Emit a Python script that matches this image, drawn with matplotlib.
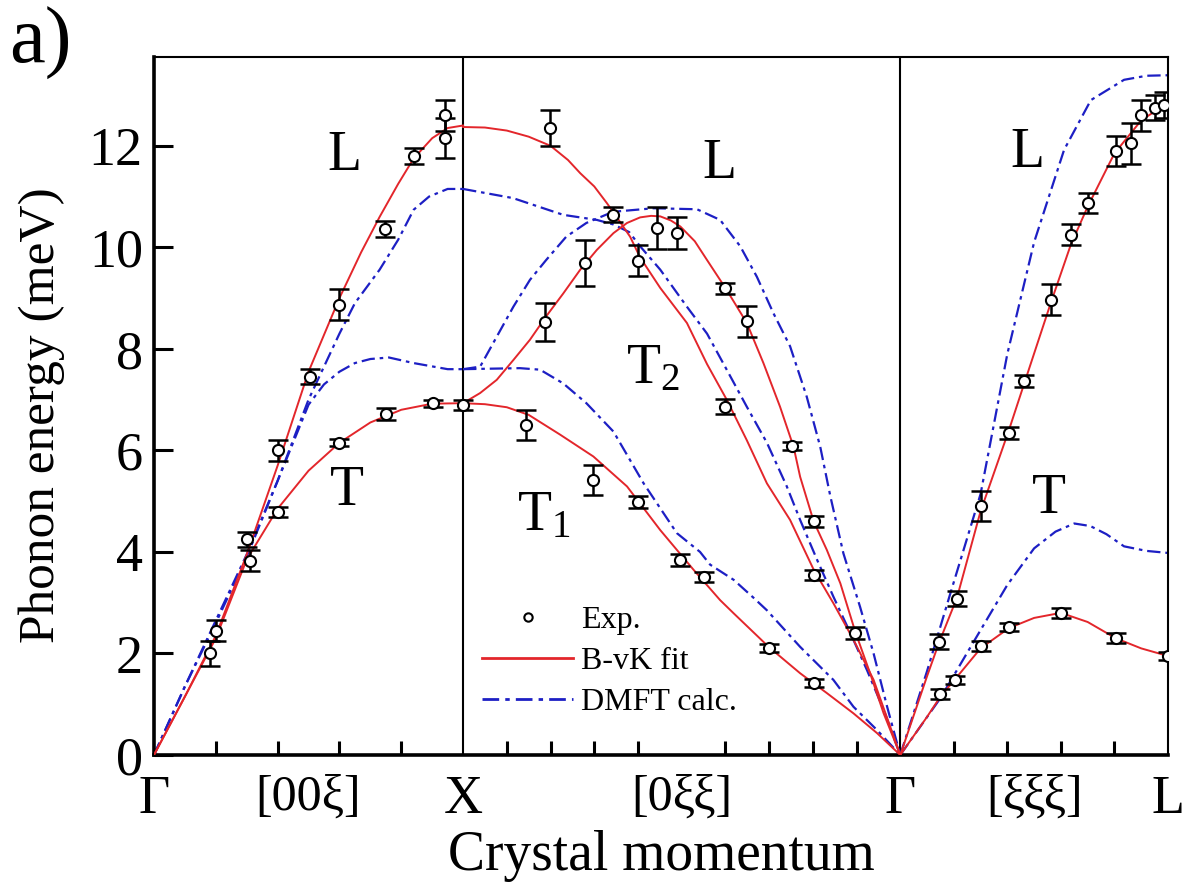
import numpy as np
import matplotlib
matplotlib.use('Agg')
import matplotlib.pyplot as plt

plt.rcParams['font.family'] = ['Liberation Serif', 'DejaVu Serif']
plt.rcParams['mathtext.fontset'] = 'custom'
plt.rcParams['mathtext.rm'] = 'Liberation Serif'
plt.rcParams['mathtext.it'] = 'Liberation Serif'

# path segments: G-X [00x], X-G [0xx], G-L [xxx]  (lengths in 2pi/a)
seg_len = [1.0, np.sqrt(2), np.sqrt(3) / 2]
seg_start = [0.0, 1.0, 1.0 + np.sqrt(2)]

RED = '#e3262b'
BLUE = '#1d1fc4'

# ---- B-vK fit (red), q = fraction along each segment ----
fit_gx_L_q = [0, 0.1, 0.2, 0.3, 0.4, 0.5, 0.6, 0.67, 0.73, 0.79, 0.84, 0.9, 0.95, 1.0]
fit_gx_L_e = [0, 1.15, 2.35, 3.95, 5.7, 7.55, 9.0, 9.9, 10.6, 11.25, 11.75, 12.15, 12.35, 12.4]
fit_gx_T_q = [0, 0.1, 0.2, 0.3, 0.4, 0.5, 0.6, 0.7, 0.8, 0.9, 1.0]
fit_gx_T_e = [0, 1.15, 2.3, 3.85, 4.85, 5.6, 6.15, 6.55, 6.8, 6.92, 6.93]

fit_xg_L_q = [0, 0.05, 0.1, 0.15, 0.2, 0.24, 0.268, 0.3, 0.329, 0.355, 0.382, 0.405, 0.451,
              0.512, 0.558, 0.603, 0.649, 0.695, 0.748, 0.802, 0.847, 0.893, 0.939, 1.0]
fit_xg_L_e = [12.37, 12.36, 12.3, 12.18, 12.0, 11.72, 11.46, 11.2, 10.87, 10.55, 10.21, 9.8, 9.2,
              8.51, 7.7, 7.0, 6.2, 5.35, 4.63, 3.65, 2.99, 2.27, 1.48, 0]
fit_xg_T2_q = [0, 0.039, 0.077, 0.115, 0.153, 0.19, 0.229, 0.268, 0.306, 0.344, 0.375, 0.405,
               0.43, 0.451, 0.475, 0.497, 0.53, 0.558, 0.603, 0.649, 0.687, 0.725, 0.756, 0.771,
               0.802, 0.832, 0.863, 0.897, 0.931, 0.962, 1.0]
fit_xg_T2_e = [6.93, 7.13, 7.39, 7.78, 8.18, 8.64, 9.09, 9.56, 9.95, 10.28, 10.48, 10.59,
               10.62, 10.61, 10.53, 10.41, 10.12, 9.75, 9.16, 8.51, 7.72, 6.86, 6.07, 5.48,
               4.6, 4.04, 3.38, 2.43, 1.61, 0.82, 0]
fit_xg_T1_q = [0, 0.05, 0.1, 0.15, 0.222, 0.298, 0.375, 0.451, 0.527, 0.588, 0.619, 0.699, 0.771,
               0.832, 0.893, 0.947, 1.0]
fit_xg_T1_e = [6.93, 6.91, 6.85, 6.7, 6.31, 5.88, 5.29, 4.43, 3.65, 3.05, 2.79, 2.13, 1.61,
               1.22, 0.82, 0.43, 0]

fit_gl_L_q = [0, 0.1, 0.144, 0.212, 0.3, 0.406, 0.462, 0.562, 0.637, 0.7, 0.8, 0.9, 1.0]
fit_gl_L_e = [0, 1.55, 2.2, 3.1, 4.8, 6.4, 7.3, 8.9, 10.05, 10.8, 11.85, 12.5, 12.85]
fit_gl_T_q = [0, 0.1, 0.15, 0.206, 0.3, 0.406, 0.5, 0.6, 0.7, 0.805, 0.9, 1.0]
fit_gl_T_e = [0, 0.75, 1.15, 1.5, 2.1, 2.5, 2.7, 2.8, 2.62, 2.3, 2.1, 1.95]

# ---- DMFT calc. (blue) ----
dmft_gx_L_q = [0, 0.1, 0.2, 0.3, 0.4, 0.5, 0.6, 0.65, 0.73, 0.79, 0.84, 0.89, 0.95, 1.0]
dmft_gx_L_e = [0, 1.35, 2.65, 3.95, 5.4, 7.0, 8.3, 8.9, 9.56, 10.15, 10.74, 11.0, 11.15, 11.15]
dmft_gx_T_q = [0, 0.1, 0.2, 0.3, 0.4, 0.5, 0.55, 0.6, 0.65, 0.7, 0.76, 0.84, 0.95, 1.0]
dmft_gx_T_e = [0, 1.35, 2.6, 3.9, 5.4, 6.9, 7.3, 7.55, 7.72, 7.8, 7.83, 7.72, 7.6, 7.6]

dmft_xg_L_q = [0, 0.114, 0.229, 0.306, 0.344, 0.38, 0.405, 0.451, 0.512, 0.558, 0.603, 0.649,
               0.695, 0.74, 0.771, 0.81, 0.847, 0.886, 0.924, 0.962, 1.0]
dmft_xg_L_e = [11.15, 10.97, 10.64, 10.54, 10.45, 10.3, 10.02, 9.56, 8.83, 8.3, 7.59, 6.86,
               6.15, 5.3, 4.63, 3.84, 3.12, 2.4, 1.67, 0.89, 0]
dmft_xg_T2_q = [0, 0.039, 0.077, 0.115, 0.153, 0.19, 0.236, 0.282, 0.343, 0.436, 0.535, 0.588,
                0.634, 0.672, 0.71, 0.748, 0.786, 0.817, 0.84, 0.87, 0.908, 0.939, 0.97, 1.0]
dmft_xg_T2_e = [7.6, 7.65, 8.24, 8.83, 9.36, 9.75, 10.21, 10.48, 10.7, 10.77, 10.75, 10.54,
                10.02, 9.42, 8.7, 8.05, 7.06, 6.07, 5.1, 3.97, 2.92, 2.0, 0.95, 0]
dmft_xg_T1_q = [0, 0.13, 0.176, 0.229, 0.282, 0.344, 0.413, 0.489, 0.542, 0.565, 0.619, 0.664,
                0.695, 0.771, 0.847, 0.893, 0.947, 1.0]
dmft_xg_T1_e = [7.6, 7.62, 7.59, 7.32, 6.93, 6.37, 5.35, 4.37, 4.0, 3.75, 3.45, 3.1,
                2.85, 2.13, 1.48, 0.95, 0.49, 0]

dmft_gl_L_q = [0, 0.1, 0.187, 0.3, 0.4, 0.5, 0.612, 0.712, 0.836, 0.92, 1.0]
dmft_gl_L_e = [0, 1.65, 3.18, 5.14, 7.9, 10.1, 11.92, 12.9, 13.3, 13.38, 13.39]
dmft_gl_T_q = [0, 0.15, 0.3, 0.4, 0.5, 0.58, 0.65, 0.71, 0.77, 0.836, 0.92, 1.0]
dmft_gl_T_e = [0, 1.12, 2.46, 3.35, 4.07, 4.4, 4.56, 4.51, 4.35, 4.11, 4.02, 3.98]

# ---- experiment: (q, energy, error) per segment ----
exp_gx_q = [0.18, 0.20, 0.30, 0.31, 0.40, 0.40, 0.505, 0.60, 0.60, 0.748, 0.75, 0.84, 0.904, 0.94, 0.94, 1.0]
exp_gx_e = [2.0, 2.45, 4.25, 3.83, 6.0, 4.78, 7.45, 8.87, 6.15, 10.36, 6.72, 11.8, 6.93, 12.6, 12.15, 6.9]
exp_gx_err = [0.25, 0.2, 0.15, 0.2, 0.2, 0.1, 0.15, 0.3, 0.07, 0.15, 0.12, 0.15, 0.07, 0.3, 0.4, 0.1]

exp_xg_q = [0.145, 0.188, 0.199, 0.279, 0.298, 0.344, 0.401, 0.401, 0.443, 0.489, 0.497, 0.55,
            0.6, 0.6, 0.649, 0.699, 0.752, 0.802, 0.802, 0.802, 0.897]
exp_xg_e = [6.5, 8.53, 12.35, 9.69, 5.42, 10.64, 9.74, 4.99, 10.38, 10.28, 3.84, 3.51,
            9.19, 6.86, 8.54, 2.1, 6.08, 4.6, 3.55, 1.41, 2.4]
exp_xg_err = [0.3, 0.38, 0.35, 0.45, 0.3, 0.15, 0.3, 0.12, 0.41, 0.31, 0.12, 0.1,
              0.1, 0.15, 0.3, 0.08, 0.08, 0.1, 0.1, 0.08, 0.12]

exp_gl_q = [0.15, 0.206, 0.30, 0.406, 0.6, 0.805, 1.0,
            0.144, 0.212, 0.30, 0.406, 0.462, 0.562, 0.637, 0.70, 0.805, 0.861, 0.9, 0.95, 0.985]
exp_gl_e = [1.2, 1.47, 2.14, 2.52, 2.8, 2.3, 1.95,
            2.23, 3.08, 4.9, 6.34, 7.37, 8.97, 10.25, 10.88, 11.9, 12.05, 12.6, 12.75, 12.8]
exp_gl_err = [0.1, 0.08, 0.1, 0.08, 0.1, 0.1, 0.08,
              0.15, 0.15, 0.3, 0.12, 0.12, 0.3, 0.2, 0.2, 0.3, 0.4, 0.3, 0.25, 0.25]

point_labels = ['Γ', '[00ξ]', 'X', '[0ξξ]', 'Γ', '[ξξξ]', 'L']


def to_path(seg, q):
    return seg_start[seg] + np.asarray(q) * seg_len[seg]


fig = plt.figure(figsize=(11.89, 8.9), dpi=100)
ax = fig.add_axes([0.1295, 0.1517, 0.8528, 0.7843])

dash = (0, (6, 2.2, 1.6, 2.2))
fits = [(0, fit_gx_L_q, fit_gx_L_e), (0, fit_gx_T_q, fit_gx_T_e),
        (1, fit_xg_L_q, fit_xg_L_e), (1, fit_xg_T2_q, fit_xg_T2_e), (1, fit_xg_T1_q, fit_xg_T1_e),
        (2, fit_gl_L_q, fit_gl_L_e), (2, fit_gl_T_q, fit_gl_T_e)]
calcs = [(0, dmft_gx_L_q, dmft_gx_L_e), (0, dmft_gx_T_q, dmft_gx_T_e),
         (1, dmft_xg_L_q, dmft_xg_L_e), (1, dmft_xg_T2_q, dmft_xg_T2_e), (1, dmft_xg_T1_q, dmft_xg_T1_e),
         (2, dmft_gl_L_q, dmft_gl_L_e), (2, dmft_gl_T_q, dmft_gl_T_e)]

for seg, q, e in calcs:
    ax.plot(to_path(seg, q), e, color=BLUE, lw=1.6, ls=dash, zorder=2)
for seg, q, e in fits:
    ax.plot(to_path(seg, q), e, color=RED, lw=1.4, zorder=3)

for seg, q, e, err in [(0, exp_gx_q, exp_gx_e, exp_gx_err),
                       (1, exp_xg_q, exp_xg_e, exp_xg_err),
                       (2, exp_gl_q, exp_gl_e, exp_gl_err)]:
    x = to_path(seg, q)
    ax.errorbar(x, e, yerr=err, fmt='none', ecolor='black', elinewidth=1.8,
                capsize=7, capthick=1.8, zorder=4)
    ax.plot(x, e, 'o', ms=8, mfc='white', mec='black', mew=1.5, zorder=5)

# legend proxies
ax.plot([], [], 'o', ms=6, mfc='white', mec='black', mew=1.5, label='Exp.')
ax.plot([], [], color=RED, lw=2.0, label='B-vK fit')
ax.plot([], [], color=BLUE, lw=2.0, ls=dash, label='DMFT calc.')
handles, labels = ax.get_legend_handles_labels()
ax.legend(handles[-3:], labels[-3:], loc='upper left', bbox_to_anchor=(0.3235, 0.214),
          frameon=False, fontsize=23, handlelength=2.85, handletextpad=0.25,
          labelspacing=0.36, borderpad=0, borderaxespad=0)

# symmetry point separators
for xv in [seg_start[1], seg_start[2]]:
    ax.axvline(xv, color='black', lw=1.5, zorder=1)

x_end = seg_start[2] + seg_len[2]
ax.set_xlim(0, x_end)
ax.set_ylim(0, 13.75)

ax.set_yticks([0, 2, 4, 6, 8, 10, 12])
ax.tick_params(axis='y', direction='in', length=14, width=2.2, labelsize=39, pad=8, right=False)

label_x = [0, 0.5, 1.0, seg_start[1] + seg_len[1] / 2, seg_start[2],
           seg_start[2] + seg_len[2] / 2, x_end]
ax.set_xticks(label_x)
ax.set_xticklabels(point_labels)
for t, lab in zip(ax.get_xticklabels(), point_labels):
    t.set_fontsize(36 if lab.startswith('[') else 39)
ax.tick_params(axis='x', which='major', length=0, pad=14)
minor = np.concatenate([np.linspace(0, 1, 6),
                        np.linspace(seg_start[1], seg_start[2], 11),
                        np.linspace(seg_start[2], x_end, 6)])
ax.set_xticks(minor, minor=True)
ax.tick_params(axis='x', which='minor', direction='in', length=10, width=2.2, top=False)

for side in ['left', 'bottom']:
    ax.spines[side].set_linewidth(2.6)
for side in ['top', 'right']:
    ax.spines[side].set_linewidth(1.5)

ax.set_xlabel('Crystal momentum', fontsize=40)
ax.xaxis.set_label_coords(0.5, -0.108)
ax.set_ylabel('Phonon energy (meV)', fontsize=37)
ax.yaxis.set_label_coords(-0.088, 0.487)

# branch labels
ax.text(0.615, 11.8, 'L', fontsize=40, ha='center', va='center')
ax.text(0.625, 5.2, 'T', fontsize=40, ha='center', va='center')
ax.text(1.83, 11.65, 'L', fontsize=40, ha='center', va='center')
ax.text(1.615, 7.6, r'T$_2$', fontsize=40, ha='center', va='center')
ax.text(1.26, 4.7, r'T$_1$', fontsize=40, ha='center', va='center')
ax.text(2.826, 11.85, 'L', fontsize=40, ha='center', va='center')
ax.text(2.894, 5.05, 'T', fontsize=40, ha='center', va='center')

fig.text(0.008, 0.951, 'a)', fontsize=58, ha='left', va='center')

fig.savefig('out.png', dpi=100)
